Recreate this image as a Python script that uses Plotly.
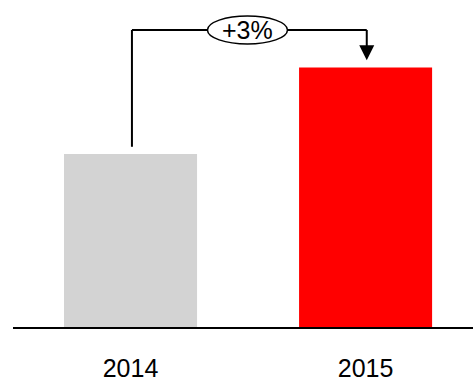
import plotly.graph_objects as go

# Yearly totals (indexed) and bar colours
years = ["2014", "2015"]
values = [100, 103]
colors = ["#D3D3D3", "#FF0000"]
change_label = "+3%"

# Truncated value axis so the change is visible
y_min, y_max = 94, 105.34
gap = 0.25          # space between bar top and bracket end (data units)
bracket_y = 104.3   # height of the horizontal bracket line

fig = go.Figure(
    go.Bar(
        x=[0, 1],
        y=values,
        marker=dict(color=colors, line=dict(width=0)),
        width=0.566,
        hoverinfo="skip",
    )
)

line = dict(color="black", width=2)
x0, x1 = 0.006, 1.005
xmid = 0.4975
shapes = [
    # left leg rising from the 2014 bar
    dict(type="line", xref="x", yref="y", x0=x0, x1=x0,
         y0=values[0] + gap, y1=bracket_y, line=line),
    # horizontal span
    dict(type="line", xref="x", yref="y", x0=x0, x1=x1,
         y0=bracket_y, y1=bracket_y, line=line),
    # right leg down to the arrowhead
    dict(type="line", xref="x", yref="y", x0=x1, x1=x1,
         y0=bracket_y, y1=values[1] + gap + 0.45, line=line),
    # arrowhead
    dict(type="path", xref="x", yref="y",
         xsizemode="pixel", ysizemode="pixel", xanchor=x1, yanchor=values[1] + gap,
         path="M -7.5 15 L 7.5 15 L 0 0 Z",
         fillcolor="black", line=dict(width=0)),
    # ellipse holding the change label
    dict(type="circle", xref="x", yref="y",
         xsizemode="pixel", ysizemode="pixel",
         xanchor=xmid, yanchor=bracket_y,
         x0=-40, x1=40, y0=-14, y1=14,
         fillcolor="white", line=dict(color="black", width=1.5)),
]

fig.update_layout(
    width=473,
    height=382,
    margin=dict(l=13, r=0, t=0, b=55),
    paper_bgcolor="white",
    plot_bgcolor="white",
    showlegend=False,
    shapes=shapes,
    annotations=[
        dict(x=xmid, y=bracket_y, xref="x", yref="y",
             text=change_label, showarrow=False,
             font=dict(family="Liberation Sans, Arial", size=25, color="black")),
    ],
    xaxis=dict(
        range=[-0.5, 1.457],
        tickvals=[0, 1],
        ticktext=years,
        showgrid=False,
        zeroline=False,
        showline=True,
        linecolor="black",
        linewidth=2,
        ticks="",
        ticklabelstandoff=18,
        tickfont=dict(family="Liberation Sans, Arial", size=25, color="black"),
        fixedrange=True,
    ),
    yaxis=dict(
        range=[y_min, y_max],
        visible=False,
        fixedrange=True,
    ),
)

fig.write_html("out.html", config={"displayModeBar": False})
